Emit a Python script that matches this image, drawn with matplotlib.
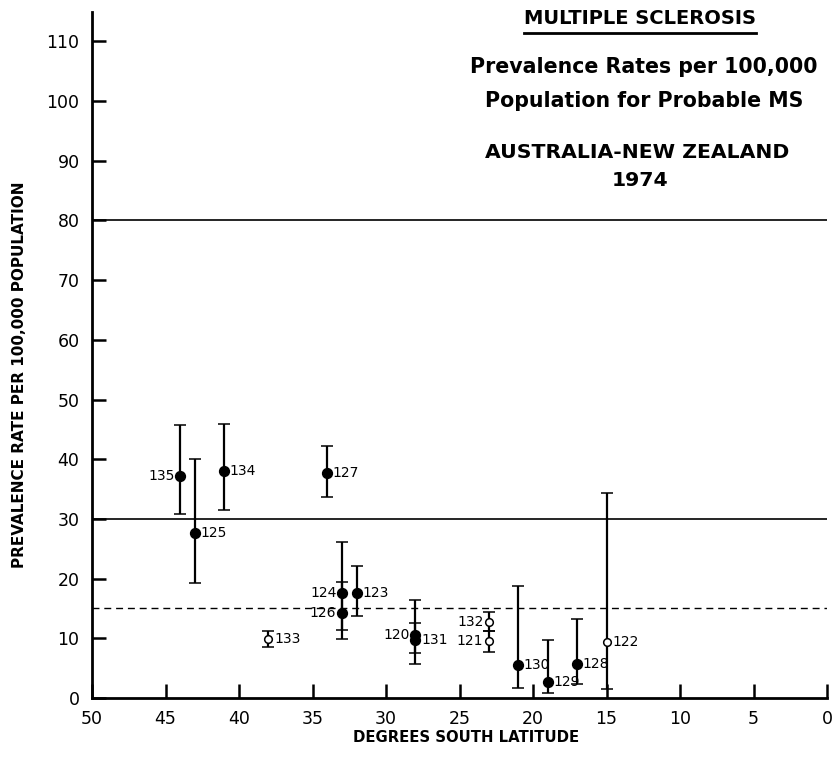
import matplotlib
matplotlib.use('Agg')
import matplotlib.pyplot as plt
from matplotlib.lines import Line2D

# survey number, latitude (deg S), prevalence and its range
survey_ids = ['135', '134', '125', '127', '124', '126', '123', '133',
              '120', '131', '132', '121', '130', '129', '128', '122']
latitude = [44, 41, 43, 34, 33, 33, 32, 38, 28, 28, 23, 23, 21, 19, 17, 15]
rate = [37.2, 38.0, 27.6, 37.7, 17.6, 14.3, 17.6, 9.8,
        10.6, 9.7, 12.8, 9.5, 5.6, 2.7, 5.7, 9.4]
rate_low = [30.9, 31.5, 19.3, 33.6, 11.4, 9.8, 13.8, 8.5,
            5.7, 7.6, 11.3, 7.7, 1.6, 0.8, 2.3, 1.5]
rate_high = [45.8, 45.9, 40.1, 42.2, 26.1, 19.5, 22.1, 11.2,
             16.5, 12.6, 14.4, 11.3, 18.8, 9.7, 13.2, 34.4]
open_marker = ['133', '132', '121', '122']
label_left = ['135', '124', '126', '120', '132', '121']

ref_solid = [80, 30]
ref_dashed = 15

W, H = 838, 772
fig = plt.figure(figsize=(W / 100, H / 100), dpi=100)
ax = fig.add_axes([92 / W, 74 / H, 735 / W, 686.5 / H])

for y in ref_solid:
    ax.axhline(y, color='black', lw=1.2)
ax.axhline(ref_dashed, color='black', lw=1.0, linestyle=(0, (5, 3.5)))

for sid, x, r, lo, hi in zip(survey_ids, latitude, rate, rate_low, rate_high):
    hollow = sid in open_marker
    ax.errorbar([x], [r], yerr=[[r - lo], [hi - r]], fmt='o',
                color='black', ecolor='black', elinewidth=1.6,
                capsize=4.5, capthick=1.6,
                markersize=5.5 if hollow else 7,
                markerfacecolor='white' if hollow else 'black',
                markeredgecolor='black', markeredgewidth=1.1, zorder=3)
    if sid in label_left:
        ax.annotate(sid, (x, r), xytext=(-4, 0), textcoords='offset points',
                    ha='right', va='center', fontsize=10)
    else:
        ax.annotate(sid, (x, r), xytext=(4, 0), textcoords='offset points',
                    ha='left', va='center', fontsize=10)

ax.set_xlim(50, 0)
ax.set_ylim(0, 115)
ax.set_xticks(range(50, -1, -5))
ax.set_yticks(range(0, 111, 10))
ax.tick_params(axis='both', direction='in', width=1.8, labelsize=12.5)
ax.tick_params(axis='y', length=10, pad=9)
ax.tick_params(axis='x', length=10, pad=9)

for side in ['top', 'right']:
    ax.spines[side].set_visible(False)
for side in ['left', 'bottom']:
    ax.spines[side].set_linewidth(2)

fig.text(466 / W, 1 - 738 / H, 'DEGREES SOUTH LATITUDE', ha='center', va='center',
         fontsize=10.7, fontweight='bold')
fig.text(20 / W, 1 - 375 / H, 'PREVALENCE RATE PER 100,000 POPULATION',
         ha='center', va='center', rotation=90, fontsize=11, fontweight='bold')

# title block
head = fig.text(640 / W, 1 - 18 / H, 'MULTIPLE SCLEROSIS', ha='center', va='center',
                fontsize=14, fontweight='bold')
fig.text(644 / W, 1 - 67 / H, 'Prevalence Rates per 100,000', ha='center', va='center',
         fontsize=14.8, fontweight='bold')
fig.text(644 / W, 1 - 101 / H, 'Population for Probable MS', ha='center', va='center',
         fontsize=14.8, fontweight='bold')
fig.text(637 / W, 1 - 153 / H, 'AUSTRALIA-NEW ZEALAND', ha='center', va='center',
         fontsize=14.7, fontweight='bold')
fig.text(640 / W, 1 - 181 / H, '1974', ha='center', va='center',
         fontsize=14.7, fontweight='bold')

fig.canvas.draw()
bb = head.get_window_extent()
fig.add_artist(Line2D([bb.x0 / W, bb.x1 / W], [1 - 33 / H, 1 - 33 / H],
                      transform=fig.transFigure, color='black', lw=2))

fig.savefig('out.png', dpi=100)
